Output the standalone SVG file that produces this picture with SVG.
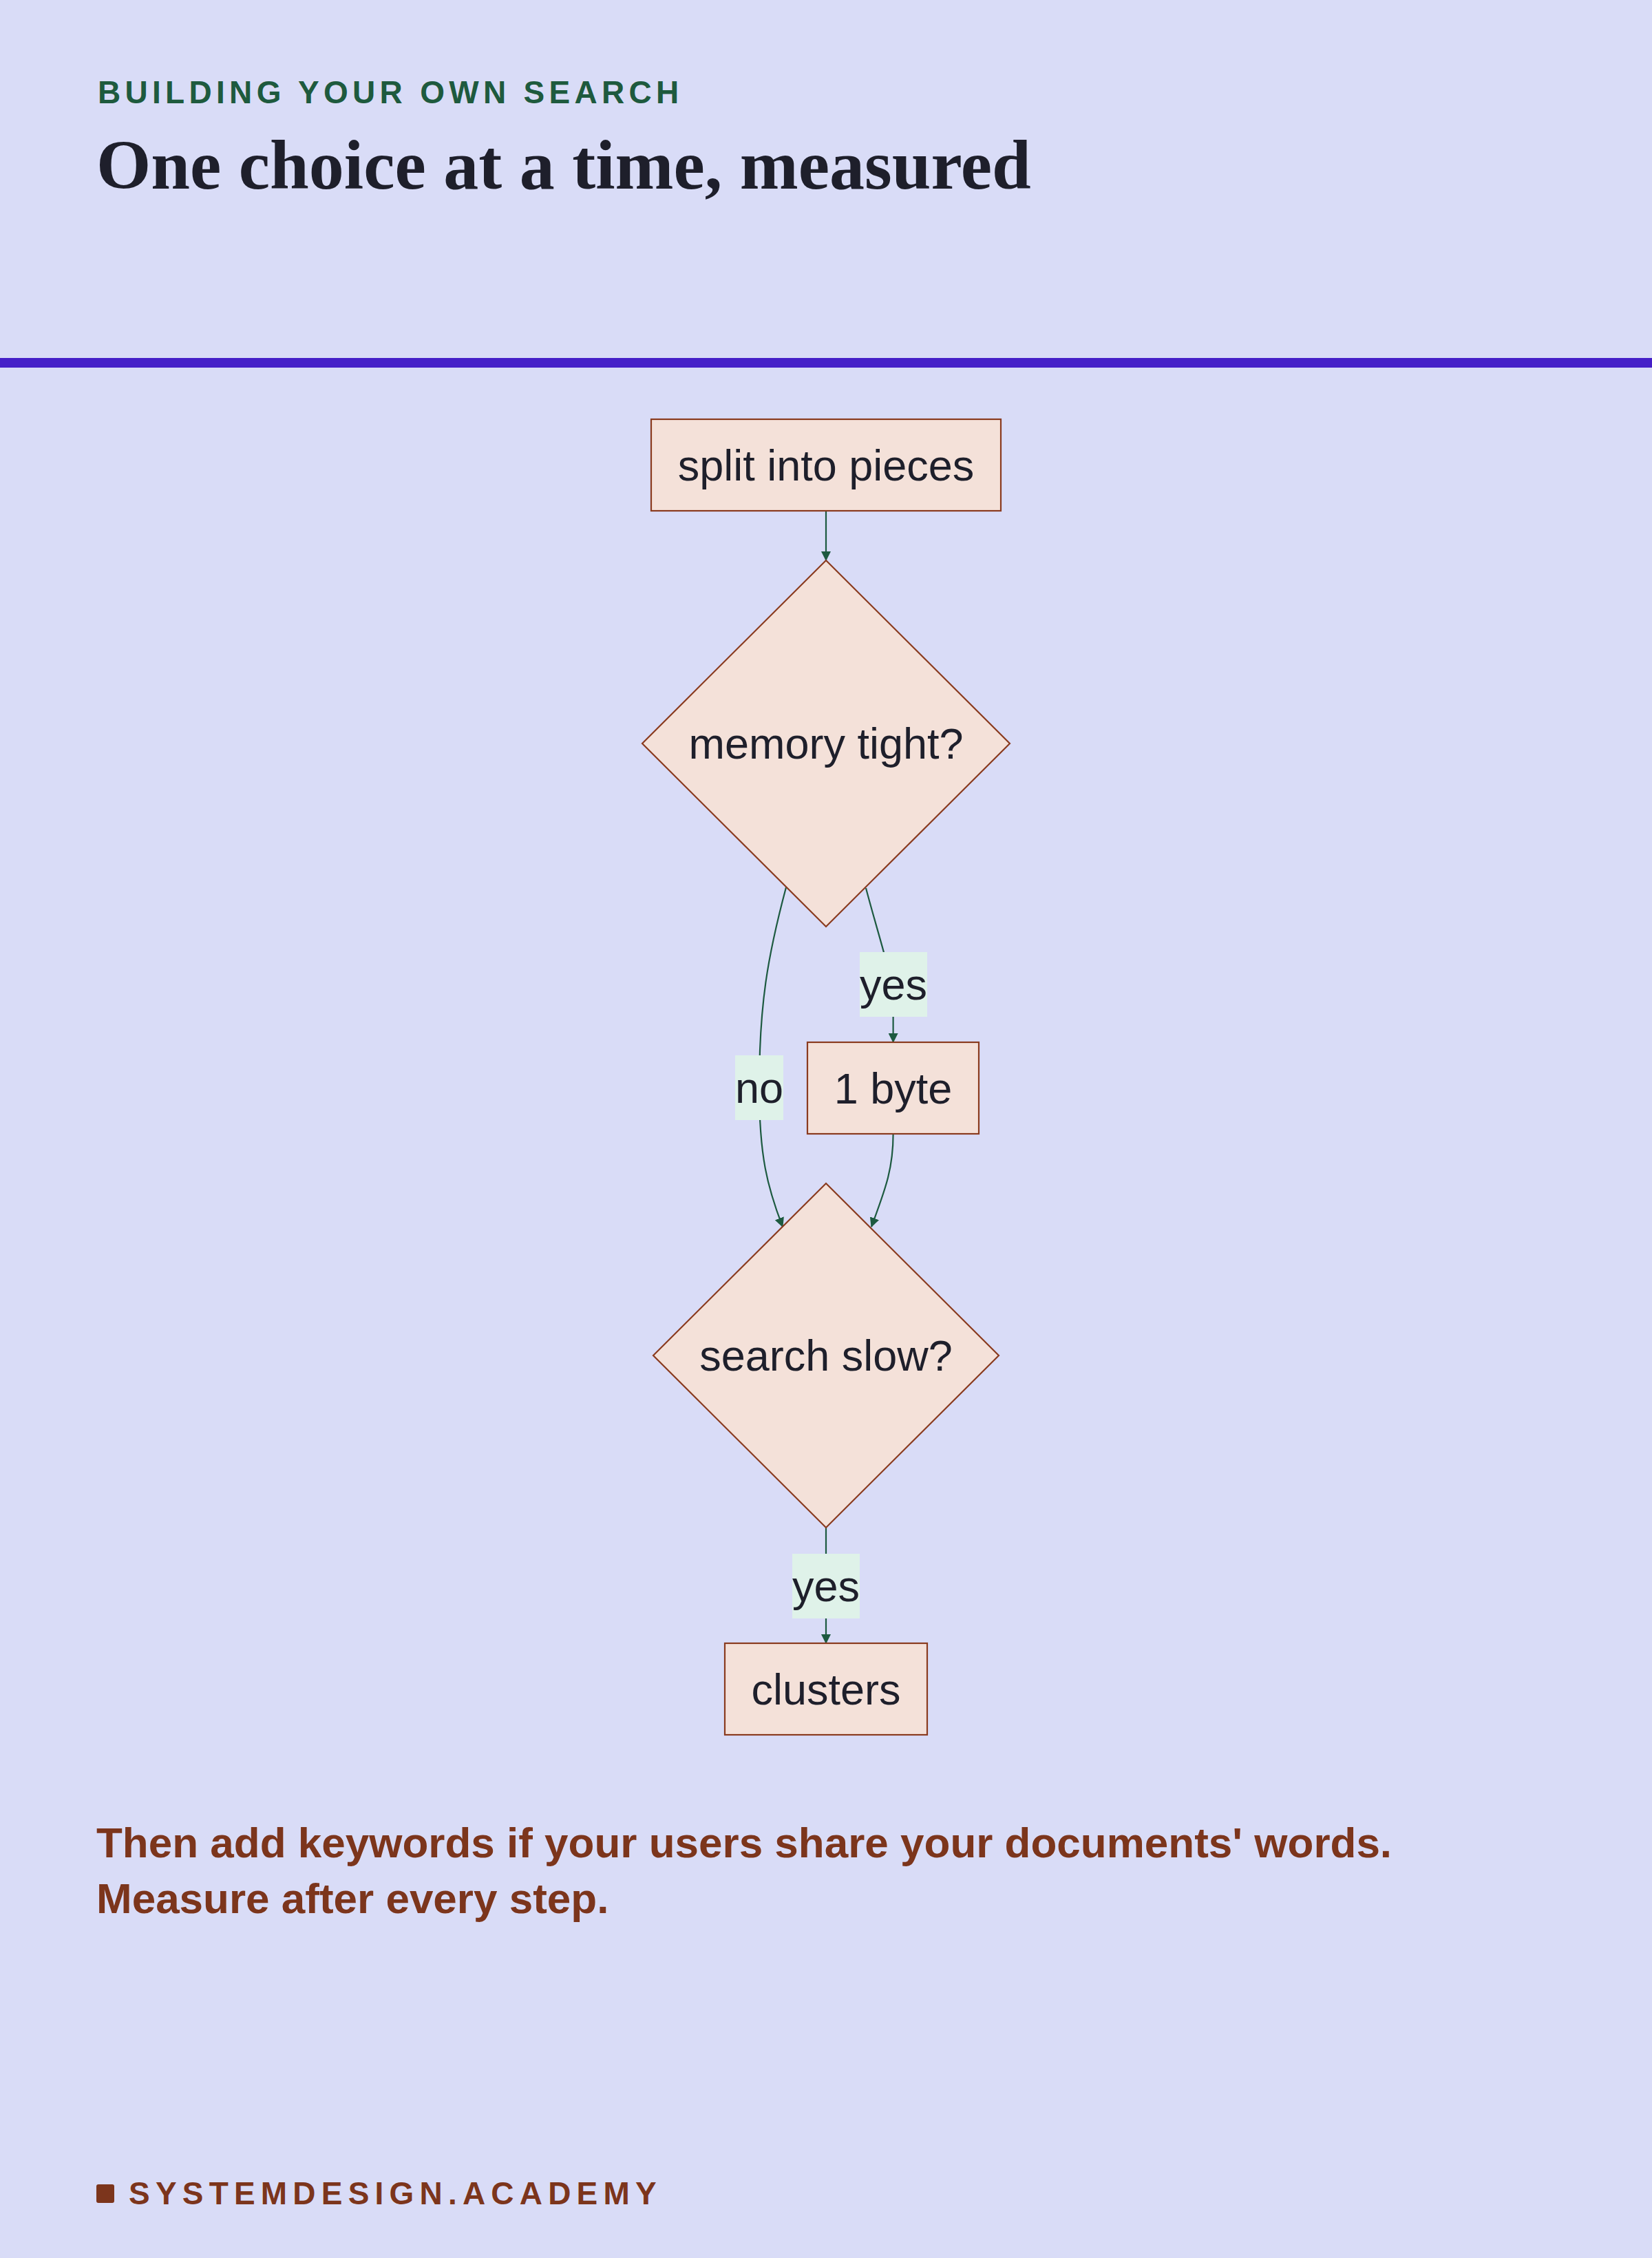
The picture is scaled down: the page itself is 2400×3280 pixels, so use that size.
<svg xmlns="http://www.w3.org/2000/svg" width="2400" height="3280" viewBox="0 0 2400 3280">
<defs>
<style>
.node{fill:#F4E1D9;stroke:#8A3B1F;stroke-width:2.2}
.nt{font-family:"Liberation Sans",Arial,sans-serif;font-size:63px;fill:#1E1F2B;text-anchor:middle}
.edge{fill:none;stroke:#1D5A40;stroke-width:2.2}
.lbg{fill:#DFF2E9}
</style>
<marker id="arr" viewBox="0 0 14 14" refX="13" refY="7" markerWidth="14" markerHeight="14" markerUnits="userSpaceOnUse" orient="auto">
<path d="M0,0 L14,7 L0,14 Z" fill="#1D5A40"/>
</marker>
</defs>
<rect x="0" y="0" width="2400" height="3280" fill="#D9DCF7"/>
<text x="142" y="150" font-family="'Liberation Sans',Arial,sans-serif" font-weight="bold" font-size="46" letter-spacing="6.3" fill="#1E5A3E">BUILDING YOUR OWN SEARCH</text>
<text x="140" y="274" font-family="'Liberation Serif','Times New Roman',serif" font-weight="bold" font-size="102" fill="#1E1F2B">One choice at a time, measured</text>
<rect x="0" y="520" width="2400" height="14" fill="#4520C8"/>

<g id="connectors">
<path class="edge" d="M1200,742 L1200,814" marker-end="url(#arr)"/>
<path class="edge" d="M1258,1290 C1275,1355 1297,1420 1297.6,1450 L1297.6,1514" marker-end="url(#arr)"/>
<path class="edge" d="M1142,1289 C1115,1390 1103,1460 1103,1580 C1103,1680 1115,1725 1137,1782" marker-end="url(#arr)"/>
<path class="edge" d="M1297.6,1647 C1297.6,1700 1285,1730 1266,1782" marker-end="url(#arr)"/>
<path class="edge" d="M1200,2219 L1200,2387" marker-end="url(#arr)"/>
<g id="label-yes1"><rect class="lbg" x="1249" y="1383" width="98" height="94"/><text class="nt" x="1298" y="1452">yes</text></g>
<g id="label-no"><rect class="lbg" x="1068" y="1533" width="70" height="94"/><text class="nt" x="1103" y="1602">no</text></g>
<g id="label-yes2"><rect class="lbg" x="1151" y="2257" width="98" height="94"/><text class="nt" x="1200" y="2326">yes</text></g>
</g>

<g id="node-split">
<rect class="node" x="946" y="609" width="508" height="133"/>
<text class="nt" x="1200" y="698">split into pieces</text>
</g>
<g id="node-memory">
<polygon class="node" points="1200,814 1467,1080 1200,1346 933,1080"/>
<text class="nt" x="1200" y="1102">memory tight?</text>
</g>
<g id="node-byte">
<rect class="node" x="1173" y="1514" width="249" height="133"/>
<text class="nt" x="1297.5" y="1603">1 byte</text>
</g>
<g id="node-search">
<polygon class="node" points="1200,1719 1451,1969 1200,2219 949,1969"/>
<text class="nt" x="1200" y="1991">search slow?</text>
</g>
<g id="node-clusters">
<rect class="node" x="1053" y="2387" width="294" height="133"/>
<text class="nt" x="1200" y="2476">clusters</text>
</g>

<text font-family="'Liberation Sans',Arial,sans-serif" font-weight="bold" font-size="62" fill="#7C351C"><tspan x="140" y="2698">Then add keywords if your users share your documents' words.</tspan><tspan x="140" y="2779">Measure after every step.</tspan></text>

<rect x="140" y="3173" width="26" height="27" rx="3" fill="#7C351C"/>
<text x="187" y="3202" font-family="'Liberation Sans',Arial,sans-serif" font-weight="bold" font-size="46" letter-spacing="8.2" fill="#7C351C">SYSTEMDESIGN.ACADEMY</text>
</svg>
